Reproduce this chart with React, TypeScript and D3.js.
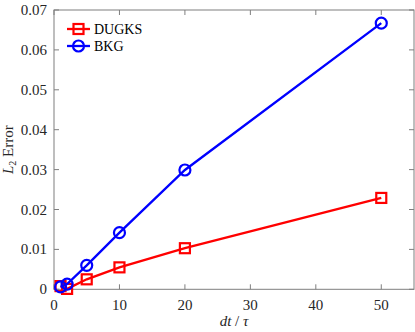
import React from "react";
import * as d3 from "d3";

const xValues = [1, 2, 5, 10, 20, 50];
const dugks = [0.0008, 0.0001, 0.0025, 0.0055, 0.0103, 0.0229];
const bkg = [0.0006, 0.0013, 0.006, 0.0142, 0.0299, 0.0667];
const xTicks = [0, 10, 20, 30, 40, 50];
const yTicks = [0, 0.01, 0.02, 0.03, 0.04, 0.05, 0.06, 0.07];
const yTickLabels = ["0", "0.01", "0.02", "0.03", "0.04", "0.05", "0.06", "0.07"];

const W = 415, H = 332;
const m = { left: 54, top: 10, right: 414, bottom: 289.3 };
const font = "Liberation Serif";

export default function App() {
  const x = d3.scaleLinear().domain([0, 55]).range([m.left, m.right]);
  const y = d3.scaleLinear().domain([0, 0.07]).range([m.bottom, m.top]);
  const line = d3.line<[number, number]>().x(d => x(d[0])).y(d => y(d[1]));
  const dPts = xValues.map((v, i) => [v, dugks[i]] as [number, number]);
  const bPts = xValues.map((v, i) => [v, bkg[i]] as [number, number]);
  const axisColor = "#7f7f7f";
  const tl = 5;
  const ts = { fontFamily: font } as React.CSSProperties;
  return (
    <svg width={W} height={H} style={{ position: "absolute", left: 0, top: 0 }}>
      <rect x={0} y={0} width={W} height={H} fill="#fff" />
      <rect x={m.left} y={m.top} width={m.right - m.left} height={m.bottom - m.top} fill="none" stroke={axisColor} strokeWidth={1} />
      {xTicks.map(t => (
        <g key={"x" + t}>
          <line x1={x(t)} x2={x(t)} y1={m.bottom} y2={m.bottom - tl} stroke={axisColor} />
          <line x1={x(t)} x2={x(t)} y1={m.top} y2={m.top + tl} stroke={axisColor} />
          <text x={x(t)} y={310} textAnchor="middle" style={ts} fontSize={15} fill="#262626">{t}</text>
        </g>
      ))}
      {yTicks.map((t, i) => (
        <g key={"y" + t}>
          <line x1={m.left} x2={m.left + tl} y1={y(t)} y2={y(t)} stroke={axisColor} />
          <line x1={m.right} x2={m.right - tl} y1={y(t)} y2={y(t)} stroke={axisColor} />
          <text x={m.left - 7} y={y(t) + 5} textAnchor="end" style={ts} fontSize={15} fill="#262626">{yTickLabels[i]}</text>
        </g>
      ))}
      <text x={(m.left + m.right) / 2} y={326} textAnchor="middle" style={ts} fontSize={15} fontStyle="italic" fill="#262626">
        dt<tspan fontStyle="normal"> / </tspan>τ
      </text>
      <text transform={`translate(13,${(m.top + m.bottom) / 2}) rotate(-90)`} textAnchor="middle" style={ts} fontSize={15} fill="#262626">
        <tspan fontStyle="italic">L</tspan><tspan fontSize={10} dy={3}>2</tspan><tspan dy={-3}> Error</tspan>
      </text>
      <path d={line(dPts) || ""} fill="none" stroke="#ff0000" strokeWidth={2.3} />
      {dPts.map((p, i) => (
        <rect key={"d" + i} x={x(p[0]) - 5} y={y(p[1]) - 5} width={10} height={10} fill="none" stroke="#ff0000" strokeWidth={2.2} />
      ))}
      <path d={line(bPts) || ""} fill="none" stroke="#0000ff" strokeWidth={2.3} />
      {bPts.map((p, i) => (
        <circle key={"b" + i} cx={x(p[0])} cy={y(p[1])} r={5.5} fill="none" stroke="#0000ff" strokeWidth={2.2} />
      ))}
      <g>
        <line x1={67} x2={90} y1={29} y2={29} stroke="#ff0000" strokeWidth={2.3} />
        <rect x={73.5} y={24} width={10} height={10} fill="none" stroke="#ff0000" strokeWidth={2.2} />
        <text x={94} y={34} style={ts} fontSize={14} fill="#000">DUGKS</text>
        <line x1={67} x2={90} y1={46} y2={46} stroke="#0000ff" strokeWidth={2.3} />
        <circle cx={78.5} cy={46} r={5.5} fill="none" stroke="#0000ff" strokeWidth={2.2} />
        <text x={94} y={51} style={ts} fontSize={14} fill="#000">BKG</text>
      </g>
    </svg>
  );
}
